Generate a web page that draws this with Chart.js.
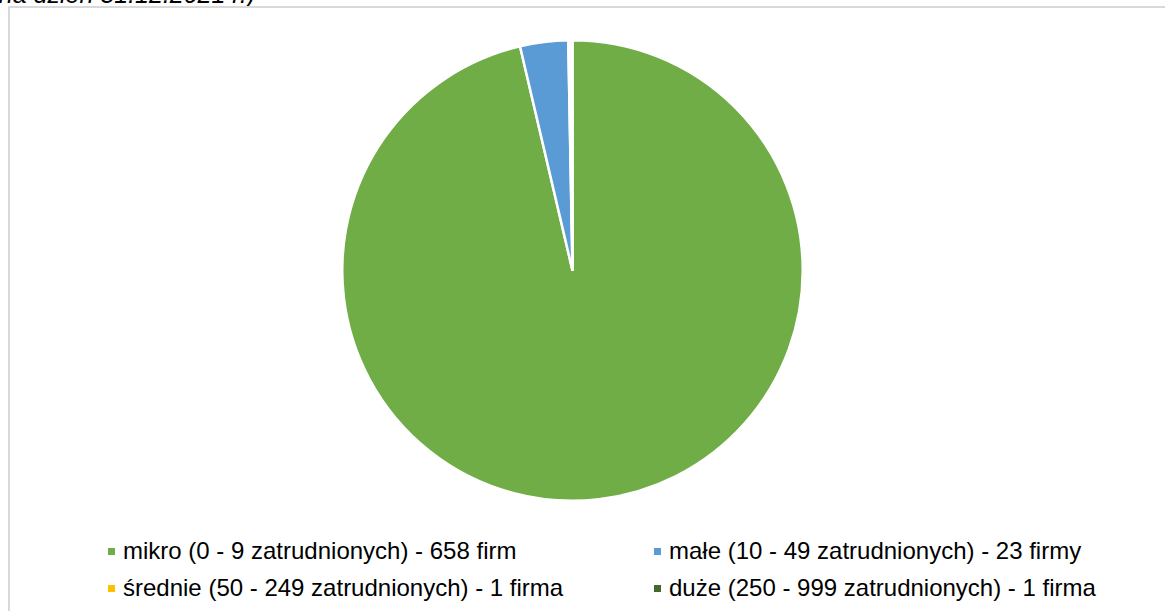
<!DOCTYPE html>
<html>
<head>
<meta charset="utf-8">
<script src="https://cdn.jsdelivr.net/npm/chart.js@4/dist/chart.umd.min.js"></script>
<style>
    body { margin: 0; background: #fff; width: 1165px; height: 611px; overflow: hidden; position: relative; font-family: "Liberation Sans", Arial, sans-serif; }
    .note { position: absolute; right: 910px; top: -21px; font-size: 25px; font-style: italic; color: #000; white-space: nowrap; line-height: 30px; }
    .frame { position: absolute; left: 8px; top: 6px; width: 1300px; height: 700px; border: 2px solid #d9d9d9; box-sizing: border-box; }
    .pie_box { position: absolute; left: 0; top: 39px; width: 1145px; height: 463px; }
    .legend_item { position: absolute; font-size: 24px; color: #000; white-space: nowrap; line-height: 28px; }
    .legend_item .box { display: inline-block; width: 7px; height: 7px; margin-right: 8px; vertical-align: 4px; }
</style>
</head>
<body>
<div class="note">na dzień 31.12.2021 r.)</div>
<div class="frame"></div>
<div class="pie_box"><canvas id="pie_canvas"></canvas></div>
<div id="legend"></div>

<script>
    // dane
    var categories = [
        'mikro (0 - 9 zatrudnionych) - 658 firm',
        'małe (10 - 49 zatrudnionych) - 23 firmy',
        'średnie (50 - 249 zatrudnionych) - 1 firma',
        'duże (250 - 999 zatrudnionych) - 1 firma'
    ];
    var firms = [658, 23, 1, 1];
    var colors = ['#70ad47', '#5b9bd5', '#ffc000', '#43682b'];

    var ctx = document.getElementById('pie_canvas');
    var chart = new Chart(ctx, {
        type: 'pie',
        data: {
            labels: categories,
            datasets: [{
                data: firms,
                backgroundColor: colors,
                borderColor: '#ffffff',
                borderWidth: 2.5
            }]
        },
        options: {
            responsive: true,
            maintainAspectRatio: false,
            animation: false,
            layout: { padding: 0 },
            plugins: {
                legend: { display: false },
                tooltip: { enabled: false }
            }
        }
    });

    // legenda w dwóch kolumnach
    var legendPos = [[108, 537], [654, 537], [108, 574], [654, 574]];
    var legend = document.getElementById('legend');
    categories.forEach(function(name, i) {
        var item = document.createElement('div');
        item.className = 'legend_item';
        item.style.left = legendPos[i][0] + 'px';
        item.style.top = legendPos[i][1] + 'px';
        item.innerHTML = '<span class="box" style="background:' + colors[i] + '"></span>' + name;
        legend.appendChild(item);
    });
</script>
</body>
</html>
